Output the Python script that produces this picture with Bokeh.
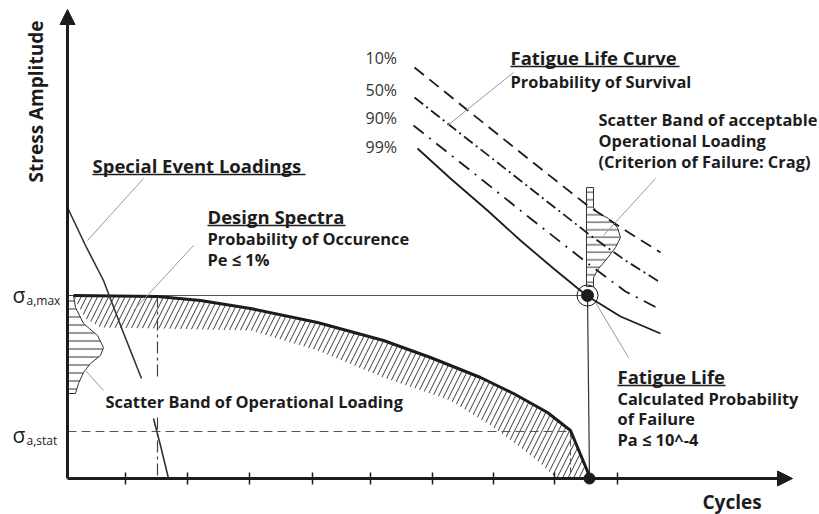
import math
from bokeh.plotting import figure
from bokeh.models import Range1d, Arrow, NormalHead
from bokeh.core.properties import value
from bokeh.embed import file_html
from bokeh.resources import INLINE

# ---------------- data (schematic, in picture units: x right, y down) ----------------
axis_origin = (67, 478)
x_axis_end = 792
y_axis_end = 9
x_ticks = [125, 187, 249, 312, 370, 432, 493, 554, 617]

sigma_max = 295
sigma_stat = 431

# design spectrum (upper boundary, thick line)
ds_upper_x = [73, 157, 200, 250, 317, 383, 430, 480, 513, 547, 570, 590]
ds_upper_y = [295, 296, 300, 308, 322, 340, 357, 377, 393, 412, 430, 478]
# lower boundary of the hatched band (right to left)
ds_lower_x = [590, 556, 540, 520, 490, 450, 383, 317, 250, 160, 100, 85, 75]
ds_lower_y = [478, 478, 463, 447, 425, 400, 377, 350, 330, 328, 327, 318, 300]

# special event loadings line (interrupted by text)
se_upper_x = [67, 85, 103, 122, 141]
se_upper_y = [207, 245, 280, 330, 378]
se_lower_x = [153, 160, 168]
se_lower_y = [418, 445, 478]

# scatter band of operational loading (left, on the stress axis)
lb_x = [67, 73, 75, 83, 97, 103, 100, 90, 83, 78, 75, 67]
lb_y = [295, 295, 307, 323, 335, 347, 355, 363, 372, 383, 393, 393]

# scatter band of acceptable operational loading (right)
rb_x = [586, 593, 593, 597, 608, 617, 620, 615, 605, 598, 593, 593, 586]
rb_y = [187, 187, 207, 212, 218, 227, 237, 247, 260, 268, 277, 286, 286]

# fatigue life curves (probability of survival)
c10_x = [414, 470, 530, 587, 625, 660]
c10_y = [67, 112, 160, 205, 230, 252]
c50_x = [414, 470, 530, 590, 625, 660]
c50_y = [97, 141, 188, 235, 260, 282]
c90_x = [413, 470, 530, 590, 625, 658]
c90_y = [125, 170, 218, 265, 291, 308]
c99_x = [417, 450, 487, 520, 553, 586, 620, 660]
c99_y = [148, 178, 210, 240, 268, 295, 316, 333]
pct_labels = ["10%", "50%", "90%", "99%"]
pct_x = [365, 365, 365, 365]
pct_y = [57, 89, 117, 146]

fatigue_point = (587, 295)
life_point = (589, 478)

# leader lines
lead_x0 = [143, 193, 85, 513, 655, 595]
lead_y0 = [178, 245, 370, 72, 178, 302]
lead_x1 = [87, 133, 103, 447, 603, 628]
lead_y1 = [240, 310, 390, 125, 235, 357]

# texts (y = centre of capitals)
title_text = ["Special Event Loadings", "Design Spectra", "Fatigue Life Curve", "Fatigue Life"]
title_x = [92, 207, 510, 617]
title_y = [165, 216, 57, 376]
title_ul_y = [174, 225, 66, 385]
title_ul_end = [305, 345, 679, 725]

sub_text = ["Probability of Occurence", "Pe \u2264 1%", "Probability of Survival",
            "Scatter Band of acceptable", "Operational Loading", "(Criterion of Failure: Crag)",
            "Calculated Probability", "of Failure", "Pa \u2264 10^-4",
            "Scatter Band of Operational Loading"]
sub_x = [207, 207, 510, 598, 598, 598, 617, 617, 617, 105]
sub_y = [238, 259, 81, 119, 140, 161, 398, 418, 439, 401]

FONT = value("Open Sans")
INK = "#1c1c1c"

p = figure(width=819, height=514, x_range=Range1d(0, 819), y_range=Range1d(514, 0),
           output_backend="svg", toolbar_location=None, min_border=0,
           background_fill_color="white", border_fill_color="white")
p.axis.visible = False
p.grid.visible = False
p.outline_line_color = None

ox, oy = axis_origin

# hatched design spectrum band
band_x = ds_upper_x + ds_lower_x
band_y = ds_upper_y + ds_lower_y
p.patch(band_x, band_y, fill_color=None, line_color=None,
        hatch_pattern="/", hatch_color="#3a3a3a", hatch_scale=11, hatch_weight=1)

# scatter bands
p.patch(lb_x, lb_y, fill_color="white", line_color="#333333", line_width=1,
        hatch_pattern="-", hatch_color="#333333", hatch_scale=8, hatch_weight=1)
p.patch(rb_x, rb_y, fill_color="white", line_color="#333333", line_width=1,
        hatch_pattern="-", hatch_color="#333333", hatch_scale=7.5, hatch_weight=1)

# reference lines
p.line([ox + 6, fatigue_point[0]], [sigma_max, sigma_max], line_color="#555555", line_width=1)
p.line([ox, ds_upper_x[-2]], [sigma_stat, sigma_stat], line_color="#555555", line_width=1, line_dash="9 5")
p.line([ds_upper_x[1], ds_upper_x[1]], [sigma_max, 377], line_color="#444444", line_width=1.2, line_dash="12 4 3 4")
p.line([ds_upper_x[1], ds_upper_x[1]], [417, oy], line_color="#444444", line_width=1.2, line_dash="12 4 3 4")
p.line([ds_upper_x[-2], ds_upper_x[-2]], [sigma_stat, oy], line_color="#555555", line_width=1, line_dash="6 3")
p.line([life_point[0], fatigue_point[0]], [life_point[1], fatigue_point[1]], line_color="#333333", line_width=1.2)

# design spectrum outline
p.line(ds_upper_x, ds_upper_y, line_color=INK, line_width=3)

# special event loading
p.line(se_upper_x, se_upper_y, line_color="#333333", line_width=1.6)
p.line(se_lower_x, se_lower_y, line_color="#333333", line_width=1.6)

# fatigue curves
p.line(c10_x, c10_y, line_color=INK, line_width=1.8, line_dash="12 7")
p.line(c50_x, c50_y, line_color=INK, line_width=1.8, line_dash="11 4 2 4")
p.line(c90_x, c90_y, line_color=INK, line_width=1.8, line_dash="13 7 2 7")
p.line(c99_x, c99_y, line_color=INK, line_width=1.8)

# leader lines
p.segment(lead_x0, lead_y0, lead_x1, lead_y1, line_color="#999999", line_width=1)

# points
p.scatter([fatigue_point[0]], [fatigue_point[1]], size=21, fill_color=None, line_color=INK, line_width=1)
p.scatter([fatigue_point[0]], [fatigue_point[1]], size=12, fill_color=INK, line_color=INK)
p.scatter([life_point[0]], [life_point[1]], size=11, fill_color=INK, line_color=INK)

# axes with arrows
p.add_layout(Arrow(end=NormalHead(size=15, fill_color=INK, line_color=INK),
                   x_start=ox, y_start=oy, x_end=ox, y_end=y_axis_end,
                   line_color=INK, line_width=3))
p.add_layout(Arrow(end=NormalHead(size=15, fill_color=INK, line_color=INK),
                   x_start=ox, y_start=oy, x_end=x_axis_end, y_end=oy,
                   line_color=INK, line_width=3))
p.segment(x_ticks, [oy - 6] * len(x_ticks), x_ticks, [oy + 6] * len(x_ticks),
          line_color=INK, line_width=1.5)

# texts
p.text(title_x, title_y, text=title_text, text_font=FONT, text_font_style="bold",
       text_font_size="18.5px", text_color=INK, text_baseline="middle")
p.segment(title_x, title_ul_y, title_ul_end, title_ul_y, line_color=INK, line_width=1.5)
p.text(sub_x, sub_y, text=sub_text, text_font=FONT, text_font_style="bold",
       text_font_size="16.4px", text_color=INK, text_baseline="middle")
p.text(pct_x, pct_y, text=pct_labels, text_font=FONT, text_font_size="16px",
       text_color="#333333", text_baseline="middle")

p.text([35], [101], text=["Stress Amplitude"], text_font=FONT, text_font_style="bold",
       text_font_size="19px", text_color=INK, text_align="center", text_baseline="middle",
       angle=math.pi / 2)
p.text([702], [501], text=["Cycles"], text_font=FONT, text_font_style="bold",
       text_font_size="19px", text_color=INK, text_baseline="middle")

p.text([12, 12], [294, 434], text=["\u03c3", "\u03c3"], text_font=FONT,
       text_font_size="21px", text_color=INK, text_baseline="middle")
p.text([26, 26], [300, 440], text=["a,max", "a,stat"], text_font=FONT,
       text_font_size="12px", text_color=INK, text_baseline="middle")

open("out.html", "w").write(file_html(p, INLINE))
